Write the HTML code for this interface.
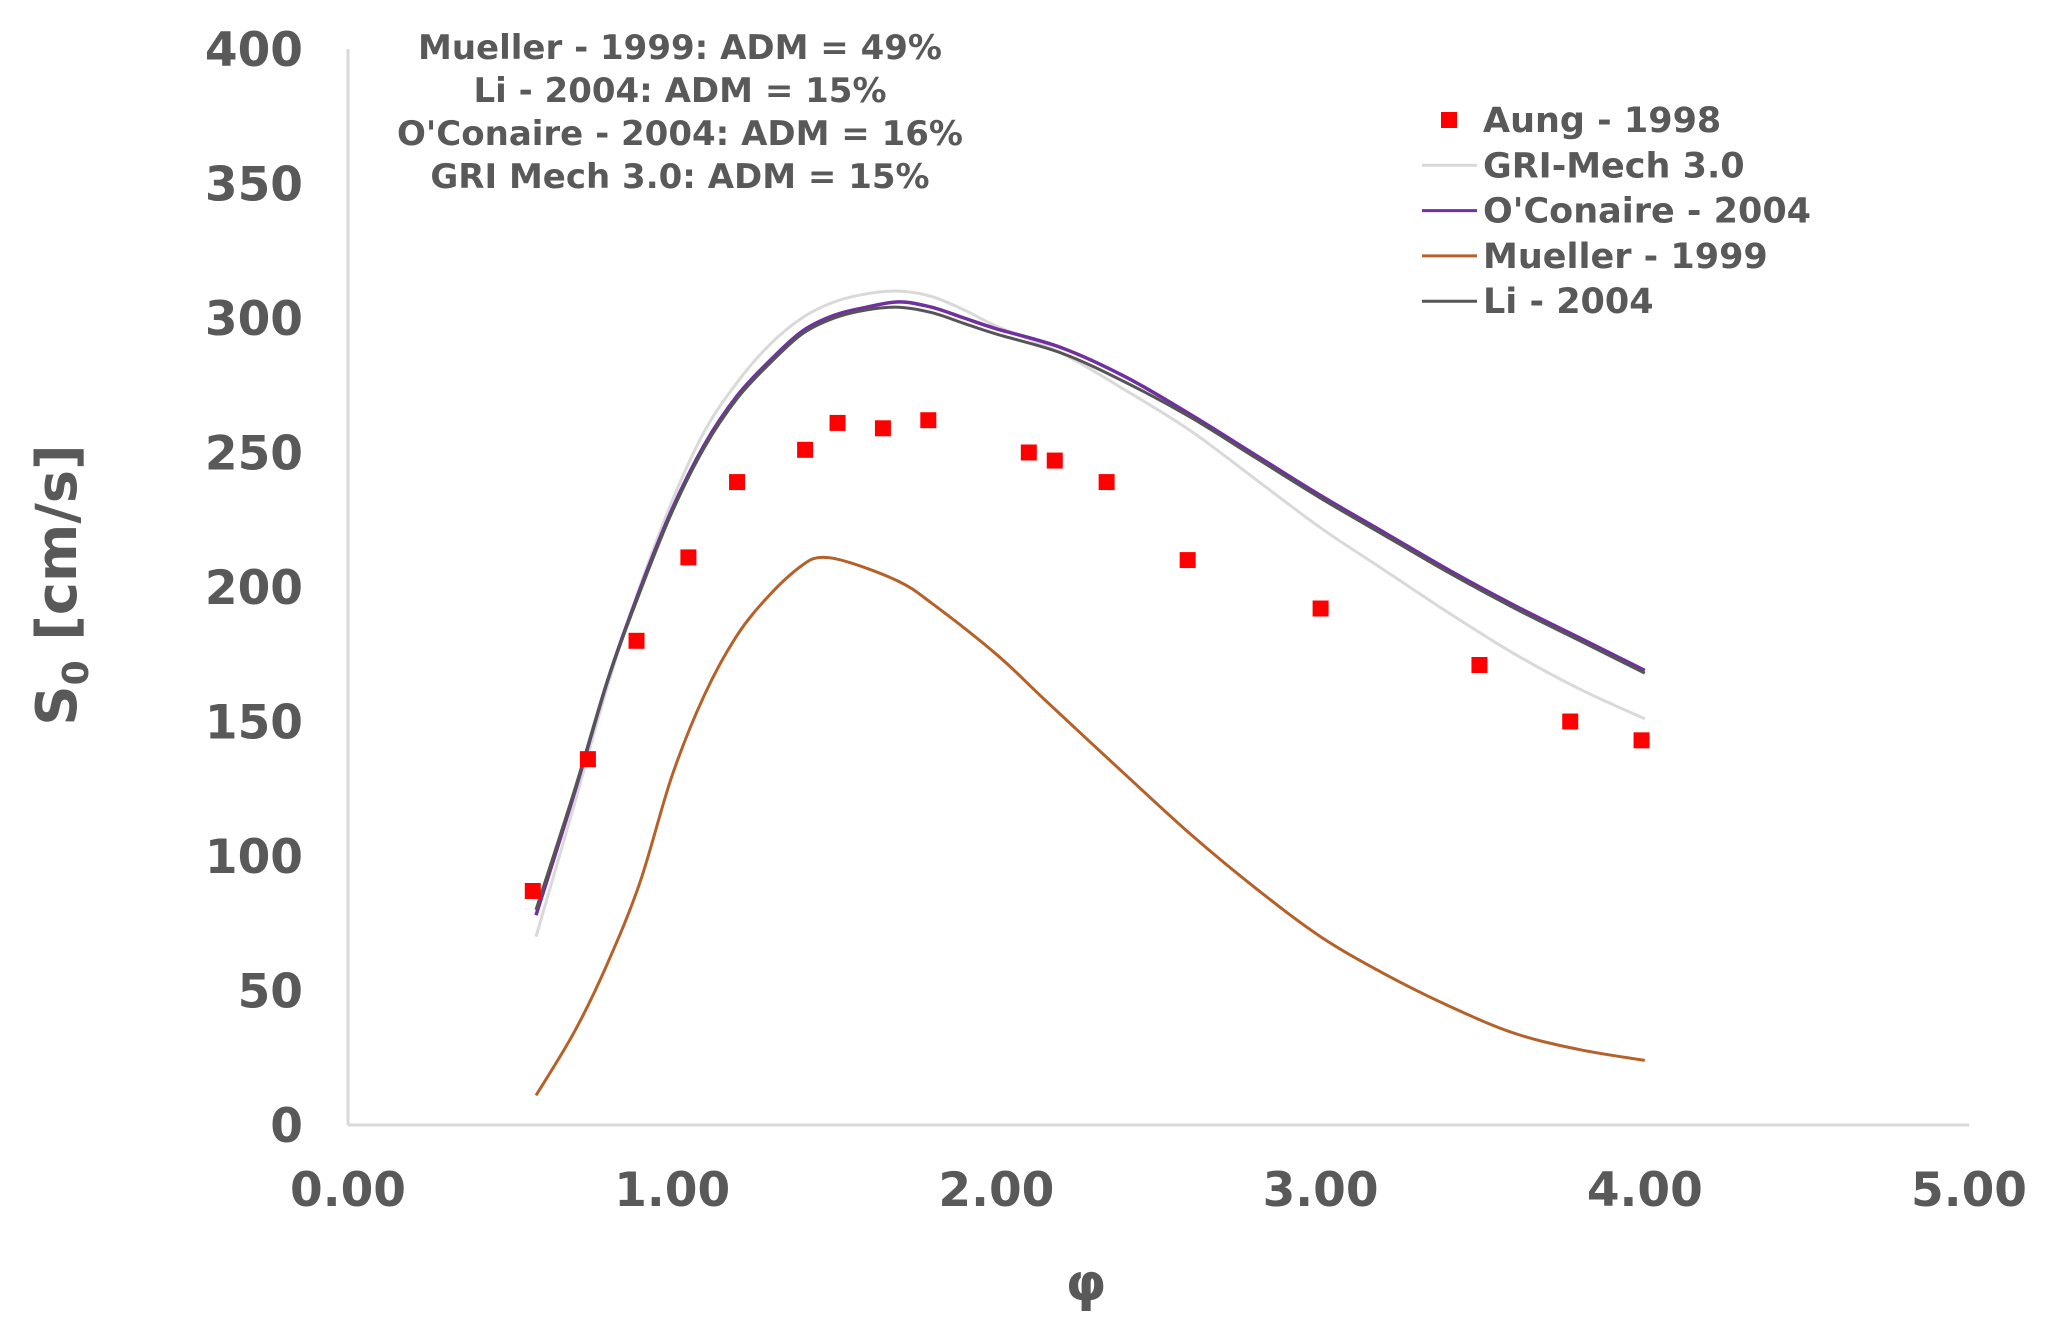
<!DOCTYPE html>
<html><head><meta charset="utf-8"><style>
html,body{margin:0;padding:0;background:#fff;}
svg{display:block;}
text{font-family:"DejaVu Sans","Liberation Sans",sans-serif;font-weight:bold;fill:#595959;}
</style></head><body>
<svg id="chart" width="2061" height="1337" viewBox="0 0 2061 1337">
<g id="axes"></g>
<g id="series"></g>
<text x="680" y="59" font-size="34" text-anchor="middle">Mueller - 1999: ADM = 49%</text>
<text x="680" y="102" font-size="34" text-anchor="middle">Li - 2004: ADM = 15%</text>
<text x="680" y="145" font-size="34" text-anchor="middle">O'Conaire - 2004: ADM = 16%</text>
<text x="680" y="188" font-size="34" text-anchor="middle">GRI Mech 3.0: ADM = 15%</text>
<text transform="translate(76,585) rotate(-90)" font-size="56" text-anchor="middle">S<tspan font-size="36" dy="12">0</tspan><tspan dy="-12"> [cm/s]</tspan></text>
<text x="1086" y="1300" font-size="52" text-anchor="middle">φ</text>
<g id="legend"></g>
</svg>
<script>
const xTicks=[0,1,2,3,4,5];
const xTickLabels=["0.00","1.00","2.00","3.00","4.00","5.00"];
const yTicks=[0,50,100,150,200,250,300,350,400];
const aungPhi=[0.57,0.74,0.89,1.05,1.20,1.41,1.51,1.65,1.79,2.10,2.18,2.34,2.59,3.00,3.49,3.77,3.99];
const aungS=[87,136,180,211,239,251,261,259,262,250,247,239,210,192,171,150,143];
const liPhi=[0.58,0.7,0.8,0.9,1.0,1.1,1.2,1.3,1.4,1.5,1.6,1.7,1.8,1.9,2.0,2.2,2.4,2.6,2.8,3.0,3.2,3.4,3.6,3.8,4.0];
const liS=[80,125,165,198,228,252,270,283,294,300,303,304,302,298,294,287,276,263,248,233,219,205,192,180,168];
const ocS=[78,124,165,199,229,253,271,284,295,301,304,306,304,300,296,289,278,264,249,234,220,206,193,181,169];
const griS=[70,120,163,200,232,258,276,290,300,306,309,310,308,303,297,287,273,258,240,222,206,190,175,162,151];
const muPhi=[0.58,0.7,0.8,0.9,1.0,1.1,1.2,1.3,1.4,1.46,1.55,1.7,1.8,2.0,2.15,2.4,2.6,2.8,3.0,3.2,3.4,3.6,3.8,4.0];
const muS=[11,35,60,90,130,160,182,197,208,211,209,202,194,175,158,130,108,88,70,56,44,34,28,24];

const NS="http://www.w3.org/2000/svg";
const X0=348,X1=1969,Y0=1125,Y1=49;
const xs=v=>X0+(X1-X0)*v/5;
const ys=v=>Y0-(Y0-Y1)*v/400;
function mk(tag,attrs,parent){const e=document.createElementNS(NS,tag);for(const k in attrs)e.setAttribute(k,attrs[k]);parent.appendChild(e);return e;}
const axes=document.getElementById('axes'),series=document.getElementById('series'),legend=document.getElementById('legend');
let a=mk('line',{x1:X0,y1:Y1,x2:X0,y2:Y0,stroke:'#d9d9d9','stroke-width':3},axes);


a=mk('line',{x1:X0,y1:Y0,x2:X1,y2:Y0,stroke:'#d9d9d9','stroke-width':3},axes);


yTicks.forEach(v=>{const t=mk('text',{x:303,y:ys(v)+17,'font-size':47,'text-anchor':'end'},axes);t.textContent=v;

});
xTicks.forEach((v,i)=>{const t=mk('text',{x:xs(v),y:1206,'font-size':47,'text-anchor':'middle'},axes);t.textContent=xTickLabels[i];

});
function line(px,py,color,w,name){
const P=px.map((p,i)=>[xs(p),ys(py[i])]);
let d='M'+P[0][0].toFixed(1)+','+P[0][1].toFixed(1);
for(let i=0;i<P.length-1;i++){const p0=P[Math.max(0,i-1)],p1=P[i],p2=P[i+1],p3=P[Math.min(P.length-1,i+2)];
const c1=[p1[0]+(p2[0]-p0[0])/6,p1[1]+(p2[1]-p0[1])/6],c2=[p2[0]-(p3[0]-p1[0])/6,p2[1]-(p3[1]-p1[1])/6];
d+=' C'+c1[0].toFixed(1)+','+c1[1].toFixed(1)+' '+c2[0].toFixed(1)+','+c2[1].toFixed(1)+' '+p2[0].toFixed(1)+','+p2[1].toFixed(1);}
const p=mk('path',{d:d,fill:'none',stroke:color,'stroke-width':w,'stroke-linejoin':'round'},series);

}
line(liPhi,griS,'#d9d9d9',3,'gri-mech-line');
line(muPhi,muS,'#b5612a',3,'mueller-line');
line(liPhi,ocS,'#7030a0',3.5,'oconaire-line');
line(liPhi,liS,'#555555',3,'li-line');
aungPhi.forEach((p,i)=>{const r=mk('rect',{x:xs(p)-8,y:ys(aungS[i])-8,width:16,height:16,fill:'#ff0000'},series);

});
const legNames=["Aung - 1998","GRI-Mech 3.0","O'Conaire - 2004","Mueller - 1999","Li - 2004"];
const legColors=['#ff0000','#d9d9d9','#7030a0','#b5612a','#555555'];
legNames.forEach((n,i)=>{const y=120+i*45.3;
let m;
if(i===0){m=mk('rect',{x:1441,y:y-8,width:16,height:16,fill:legColors[i]},legend);}
else{m=mk('line',{x1:1422,y1:y,x2:1477,y2:y,stroke:legColors[i],'stroke-width':3},legend);}


const t=mk('text',{x:1483,y:y+12,'font-size':35},legend);t.textContent=n;

});
</script>
</body></html>
